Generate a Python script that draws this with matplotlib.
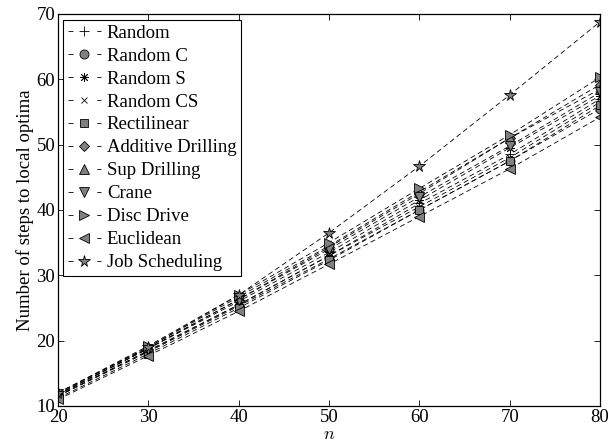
import matplotlib

matplotlib.use("Agg")
import matplotlib.pyplot as plt
from matplotlib.lines import Line2D

plt.rcParams["font.family"] = ["Liberation Serif", "DejaVu Serif"]
plt.rcParams["mathtext.fontset"] = "cm"

n = [20, 30, 40, 50, 60, 70, 80]

# mean number of steps to reach a local optimum, per instance class
random_ = [11.5, 18.5, 25.5, 33.0, 41.0, 48.5, 57.0]
random_c = [11.5, 18.3, 25.3, 32.5, 40.0, 47.5, 55.5]
random_s = [11.8, 18.8, 26.0, 33.5, 41.5, 49.5, 57.5]
random_cs = [11.6, 18.4, 25.5, 33.0, 40.5, 48.0, 56.5]
rectilinear = [11.2, 18.0, 25.0, 32.3, 40.0, 47.5, 56.0]
additive_drilling = [11.7, 18.8, 26.3, 34.3, 42.5, 51.0, 59.2]
sup_drilling = [12.0, 19.0, 26.7, 34.5, 42.8, 51.0, 58.5]
crane = [11.8, 18.8, 26.3, 34.0, 42.0, 49.8, 58.0]
disc_drive = [12.0, 19.2, 27.0, 35.0, 43.3, 51.5, 60.3]
euclidean = [11.0, 17.7, 24.5, 31.7, 39.0, 46.3, 54.2]
job_scheduling = [12.0, 19.0, 27.0, 36.5, 46.7, 57.6, 68.8]

series = [
    ("Random", random_, "+", 7),
    ("Random C", random_c, "o", 6.5),
    ("Random S", random_s, (8, 2, 0), 6.5),
    ("Random CS", random_cs, "x", 4.5),
    ("Rectilinear", rectilinear, "s", 5.5),
    ("Additive Drilling", additive_drilling, "D", 5.5),
    ("Sup Drilling", sup_drilling, "^", 7),
    ("Crane", crane, "v", 7),
    ("Disc Drive", disc_drive, ">", 7),
    ("Euclidean", euclidean, "<", 7),
    ("Job Scheduling", job_scheduling, "*", 8.5),
]

fig = plt.figure(figsize=(6.09, 4.45), dpi=100)
ax = fig.add_axes([58 / 609, 39 / 445, 542 / 609, 392 / 445])

style = dict(color="black", lw=0.6, markerfacecolor="#808080",
             markeredgecolor="black", markeredgewidth=0.6)
handles = []
for label, vals, mk, ms in series:
    ax.plot(n, vals, linestyle=(0, (6, 4)), marker=mk, markersize=ms, **style)
    # legend key: short dash, marker, short dash
    handles.append(Line2D([], [], linestyle=(0, (6, 28.5)), marker=mk,
                          markersize=ms, label=label, **style))

ax.set_xlim(20, 80)
ax.set_ylim(10, 70)
ax.set_xticks(range(20, 81, 10))
ax.set_yticks(range(10, 71, 10))
ax.tick_params(direction="in", top=True, right=True, labelsize=13.5, length=4, width=0.6)
ax.tick_params(axis="x", pad=2)
ax.tick_params(axis="y", pad=2)
for s in ax.spines.values():
    s.set_linewidth(0.9)

ax.set_xlabel("$n$", fontsize=13, labelpad=0)
ax.set_ylabel("Number of steps to local optima", fontsize=13.5, labelpad=2)

leg = ax.legend(handles=handles, loc="upper left", bbox_to_anchor=(0.009, 0.985),
                borderaxespad=0, numpoints=1, handlelength=1.8, handletextpad=0.3,
                labelspacing=0.31, borderpad=0.25, fancybox=False,
                framealpha=1, edgecolor="black", fontsize=13.5)
leg.get_frame().set_linewidth(0.8)

fig.savefig("out.png", dpi=100)
